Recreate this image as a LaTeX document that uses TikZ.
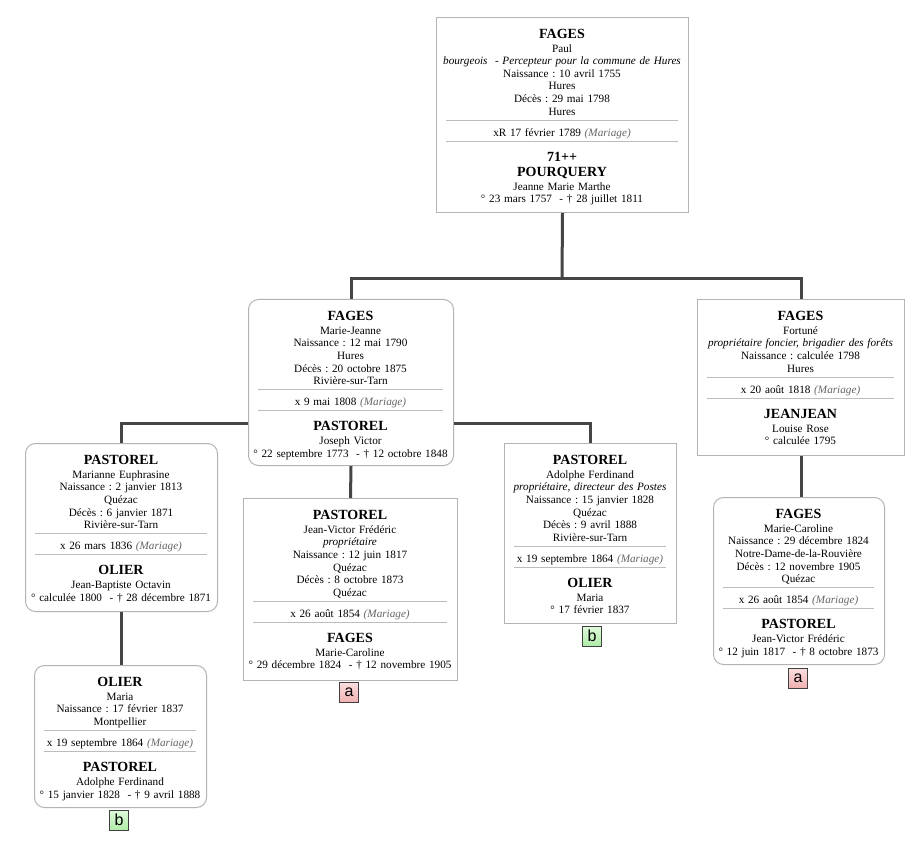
\documentclass[tikz,border=0pt]{standalone}
\usepackage{fontspec}
\setmainfont{Liberation Serif}
\newfontfamily\lblfont{Liberation Sans}
\frenchspacing
\definecolor{boxc}{HTML}{B4B4B4}
\definecolor{sepc}{HTML}{BDBDBD}
\definecolor{marc}{HTML}{666666}
\definecolor{connc}{HTML}{454545}
\definecolor{pinktop}{HTML}{FBE0E0}
\definecolor{pinkbot}{HTML}{F0B0B0}
\definecolor{greentop}{HTML}{E0FADC}
\definecolor{greenbot}{HTML}{B0ECA8}
\newcommand{\nm}[1]{{\fontsize{10.5}{12}\selectfont\bfseries #1}}
\newcommand{\sepr}{\textcolor{sepc}{\rule[3pt]{\dimexpr\hsize-12pt\relax}{0.75pt}}}
\newcommand{\mar}{\textcolor{marc}{\textit{(Mariage)}}}
\newcommand{\famcard}[7]{%
  \pgfmathsetmacro\cardw{(#5-#3)*0.75}%
  \pgfmathsetmacro\cardh{(#6-#4)*0.75}%
  \pgfmathsetmacro\cardtw{(#5-#3-4)*0.75}%
  \node[#2, anchor=north west, minimum width=\cardw pt, minimum height=\cardh pt] (#1) at (#3,#4) {};
  \node[cardtext, text width=\cardtw pt, anchor=north] (#1-t) at ({(#3+#5)/2},#4+12) {#7};
}
\tikzset{
  sq/.style={draw=boxc, fill=white, line width=0.75pt, inner sep=0pt, rectangle},
  rnd/.style={sq, rounded corners=7.5pt},
  cardtext/.style={inner sep=0pt, align=center, font=\fontsize{8.4}{9.4}\selectfont},
  conn/.style={draw=connc, line width=2.25pt},
  lbl/.style={draw=black!75, line width=0.6pt, minimum width=14.25pt, minimum height=15pt, inner sep=0pt, font=\lblfont\fontsize{12}{12}\selectfont},
  lbla/.style={lbl, top color=pinktop, bottom color=pinkbot},
  lblb/.style={lbl, top color=greentop, bottom color=greenbot}
}
\begin{document}
\begin{tikzpicture}[x=0.75pt,y=-0.75pt]
\useasboundingbox[fill=white] (0,0) rectangle (920,855);

\famcard{top}{sq}{436}{17}{688}{212}{%
\nm{FAGES}\\[1pt]
Paul\\
\textit{bourgeois\ \ - Percepteur pour la commune de Hures}\\
Naissance : 10 avril 1755\\
Hures\\
Décès : 29 mai 1798\\
Hures\\[-2pt]
\sepr\\[-1pt]
xR 17 février 1789 \mar\\[-2pt]
\sepr\\[2pt]
\nm{71++}\\[2pt]
\nm{POURQUERY}\\[1pt]
Jeanne Marie Marthe\\
° 23 mars 1757\ \ - † 28 juillet 1811}

\famcard{mj}{rnd}{248}{299}{453}{465}{%
\nm{FAGES}\\[1pt]
Marie-Jeanne\\
Naissance : 12 mai 1790\\
Hures\\
Décès : 20 octobre 1875\\
Rivière-sur-Tarn\\[-2pt]
\sepr\\[-1pt]
x 9 mai 1808 \mar\\[-2pt]
\sepr\\[2pt]
\nm{PASTOREL}\\[1pt]
Joseph Victor\\
° 22 septembre 1773\ \ - † 12 octobre 1848}

\famcard{fo}{sq}{697}{299}{904}{455}{%
\nm{FAGES}\\[1pt]
Fortuné\\
\textit{propriétaire foncier, brigadier des forêts}\\
Naissance : calculée 1798\\
Hures\\[-2pt]
\sepr\\[-1pt]
x 20 août 1818 \mar\\[-2pt]
\sepr\\[2pt]
\nm{JEANJEAN}\\[1pt]
Louise Rose\\
° calculée 1795}

\famcard{ma}{rnd}{25}{443}{217}{611}{%
\nm{PASTOREL}\\[1pt]
Marianne Euphrasine\\
Naissance : 2 janvier 1813\\
Quézac\\
Décès : 6 janvier 1871\\
Rivière-sur-Tarn\\[-2pt]
\sepr\\[-1pt]
x 26 mars 1836 \mar\\[-2pt]
\sepr\\[2pt]
\nm{OLIER}\\[1pt]
Jean-Baptiste Octavin\\
° calculée 1800\ \ - † 28 décembre 1871}

\famcard{jv}{sq}{243}{498}{457}{680}{%
\nm{PASTOREL}\\[1pt]
Jean-Victor Frédéric\\
\textit{propriétaire}\\
Naissance : 12 juin 1817\\
Quézac\\
Décès : 8 octobre 1873\\
Quézac\\[-2pt]
\sepr\\[-1pt]
x 26 août 1854 \mar\\[-2pt]
\sepr\\[2pt]
\nm{FAGES}\\[1pt]
Marie-Caroline\\
° 29 décembre 1824\ \ - † 12 novembre 1905}

\famcard{ad}{sq}{504}{443}{676}{623}{%
\nm{PASTOREL}\\[1pt]
Adolphe Ferdinand\\
\textit{propriétaire, directeur des Postes}\\
Naissance : 15 janvier 1828\\
Quézac\\
Décès : 9 avril 1888\\
Rivière-sur-Tarn\\[-2pt]
\sepr\\[-1pt]
x 19 septembre 1864 \mar\\[-2pt]
\sepr\\[2pt]
\nm{OLIER}\\[1pt]
Maria\\
° 17 février 1837}

\famcard{mc}{rnd}{713}{497}{884}{664}{%
\nm{FAGES}\\[1pt]
Marie-Caroline\\
Naissance : 29 décembre 1824\\
Notre-Dame-de-la-Rouvière\\
Décès : 12 novembre 1905\\
Quézac\\[-2pt]
\sepr\\[-1pt]
x 26 août 1854 \mar\\[-2pt]
\sepr\\[2pt]
\nm{PASTOREL}\\[1pt]
Jean-Victor Frédéric\\
° 12 juin 1817\ \ - † 8 octobre 1873}

\famcard{mo}{rnd}{34}{665}{206}{807}{%
\nm{OLIER}\\[1pt]
Maria\\
Naissance : 17 février 1837\\
Montpellier\\[-2pt]
\sepr\\[-1pt]
x 19 septembre 1864 \mar\\[-2pt]
\sepr\\[2pt]
\nm{PASTOREL}\\[1pt]
Adolphe Ferdinand\\
° 15 janvier 1828\ \ - † 9 avril 1888}

% connectors
\coordinate (j1) at (562,279);
\coordinate (j2) at (350,423);
\draw[conn] (top.south) -- (j1);
\draw[conn] (mj.north) |- (j1) -| (fo.north);
\draw[conn] (ma.north) |- (mj.west |- j2);
\draw[conn] (mj.east |- j2) -| (ad.north);
\draw[conn] (mj.south) -- (jv.north);
\draw[conn] (ma.south) -- (ma.south |- mo.north);
\draw[conn] (fo.south) -- (fo.south |- mc.north);

% labels
\node[lbla] (la1) at (349,692) {a};
\node[lblb] (lb1) at (592,636) {b};
\node[lbla] (la2) at (798,678) {a};
\node[lblb] (lb2) at (119,820) {b};
\end{tikzpicture}
\end{document}
